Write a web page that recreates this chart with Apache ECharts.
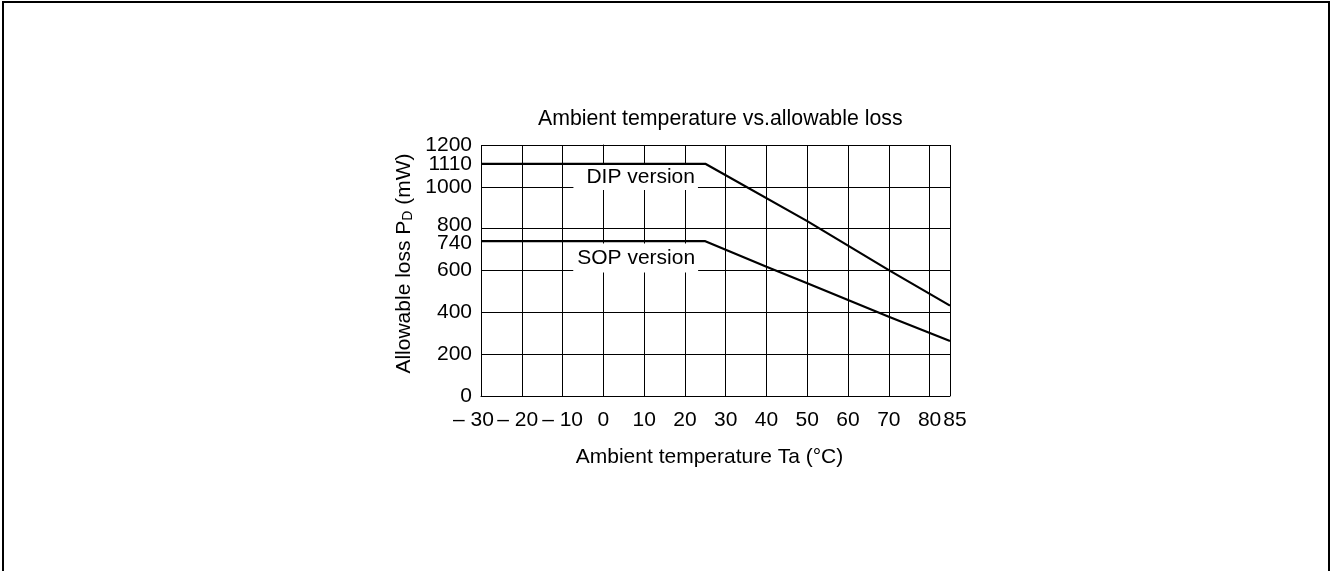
<!DOCTYPE html>
<html>
<head>
<meta charset="utf-8">
<title>Ambient temperature vs. allowable loss</title>
<script src="https://cdn.jsdelivr.net/npm/echarts@6/dist/echarts.min.js"></script>
<style>
  html, body { margin: 0; padding: 0; background: #fff; }
  #chart { width: 1330px; height: 571px; }
</style>
</head>
<body>
<div id="chart"></div>
<script>
// Ambient temperature (°C) and allowable power loss (mW) for each package
const dipTemp = [-30, 25, 50, 70, 85];
const dipLoss = [1110, 1110, 836, 602, 432];
const sopTemp = [-30, 25, 40, 50, 70, 85];
const sopLoss = [740, 740, 618, 539, 379, 263];

// Axis ranges and tick labels
const xMin = -30, xMax = 85, xStep = 10;
const yMin = 0, yMax = 1200, yStep = 200;
const yLabelValues = [0, 200, 400, 600, 740, 800, 1000, 1200];
// rated value of the DIP package, labelled on a companion axis so it sits tight under 1200
const yRatedValues = [1110];

// Text
const titleText = 'Ambient temperature vs.allowable loss';
const xName = 'Ambient temperature Ta (°C)';
const dipName = 'DIP version';
const sopName = 'SOP version';

const FONT = "'Liberation Sans', Arial, Helvetica, sans-serif";
const INK = '#000';

function pairs(xs, ys) { return xs.map((x, i) => [x, ys[i]]); }

function xLabel(v) {
  if (v === -30) return '{l30|– 30}';
  if (v === -20) return '{l20|– 20}';
  if (v < 0) return '– ' + Math.abs(v);
  if (v === 85) return '{r85|85}';
  return String(v);
}
function yLabel(v) {
  if (v === 800) return '{up|800}';
  if (v === 740) return '{dn|740}';
  return String(v);
}

function noteLabel(text, pad) {
  return {
    show: true,
    position: 'inside',
    formatter: text,
    color: INK,
    fontFamily: FONT,
    fontSize: 21,
    backgroundColor: '#fff',
    padding: pad
  };
}

const chart = echarts.init(document.getElementById('chart'), null, { renderer: 'canvas' });

chart.setOption({
  animation: false,
  backgroundColor: '#fff',
  title: {
    text: titleText,
    left: 538,
    top: 109,
    padding: 0,
    textStyle: { fontFamily: FONT, fontSize: 21.3, fontWeight: 'normal', color: INK }
  },
  graphic: [{
    type: 'rect',
    shape: { x: 3, y: 2, width: 1326, height: 700 },
    style: { fill: 'none', stroke: INK, lineWidth: 2 },
    silent: true
  }],
  grid: { left: 481, right: 380, top: 145, bottom: 175, containLabel: false },
  xAxis: {
    type: 'value',
    min: xMin,
    max: xMax,
    interval: xStep,
    name: xName,
    nameLocation: 'middle',
    nameGap: 51,
    nameTextStyle: {
      fontFamily: FONT, fontSize: 21, color: INK,
      padding: [0, 12, 0, 0]
    },
    axisLine: { show: true, lineStyle: { color: INK, width: 1 } },
    axisTick: { show: false },
    splitLine: { show: true, lineStyle: { color: INK, width: 1 } },
    axisLabel: {
      margin: 14,
      showMinLabel: true,
      showMaxLabel: true,
      hideOverlap: false,
      fontFamily: FONT, fontSize: 21, color: INK,
      formatter: xLabel,
      rich: {
        l30: { fontFamily: FONT, fontSize: 21, color: INK, padding: [0, 15, 0, 0] },
        l20: { fontFamily: FONT, fontSize: 21, color: INK, padding: [0, 8, 0, 0] },
        r85: { fontFamily: FONT, fontSize: 21, color: INK, padding: [0, 0, 0, 10] }
      }
    }
  },
  yAxis: [
    {
      type: 'value',
      position: 'left',
      min: yMin,
      max: yMax,
      interval: yStep,
      name: 'Allowable loss P{sub|D} (mW)',
      nameLocation: 'middle',
      nameGap: 66,
      nameTextStyle: {
        fontFamily: FONT, fontSize: 21, color: INK,
        padding: [0, 0, 0, 14],
        rich: {
          sub: { fontFamily: FONT, fontSize: 14, color: INK, verticalAlign: 'bottom' }
        }
      },
      axisLine: { show: true, lineStyle: { color: INK, width: 1 } },
      axisTick: { show: false },
      splitLine: { show: true, lineStyle: { color: INK, width: 1 } },
      axisLabel: {
        margin: 9,
        customValues: yLabelValues,
        showMinLabel: true,
        showMaxLabel: true,
        hideOverlap: false,
        fontFamily: FONT, fontSize: 21, color: INK,
        formatter: yLabel,
        rich: {
          up: { fontFamily: FONT, fontSize: 21, color: INK, padding: [0, 0, 6, 0] },
          dn: { fontFamily: FONT, fontSize: 21, color: INK, padding: [4, 0, 0, 0] }
        }
      }
    },
    {
      type: 'value',
      position: 'left',
      offset: 0,
      min: yMin,
      max: yMax,
      interval: yStep,
      axisLine: { show: false },
      axisTick: { show: false },
      splitLine: { show: false },
      axisLabel: {
        margin: 9,
        customValues: yRatedValues,
        showMinLabel: true,
        showMaxLabel: true,
        formatter: (v) => String(v),
        fontFamily: FONT, fontSize: 21, color: INK
      }
    }
  ],
  series: [
    {
      name: dipName,
      type: 'line',
      yAxisIndex: 0,
      data: pairs(dipTemp, dipLoss),
      showSymbol: false,
      symbol: 'none',
      lineStyle: { color: INK, width: 2.2 },
      z: 3,
      markPoint: {
        symbol: 'rect',
        symbolSize: 0,
        itemStyle: { color: 'transparent' },
        label: noteLabel(dipName, [2, 3, 2, 13]),
        data: [{ coord: [7.93, 1045] }]
      }
    },
    {
      name: sopName,
      type: 'line',
      yAxisIndex: 0,
      data: pairs(sopTemp, sopLoss),
      showSymbol: false,
      symbol: 'none',
      lineStyle: { color: INK, width: 2.2 },
      z: 3,
      markPoint: {
        symbol: 'rect',
        symbolSize: 0,
        itemStyle: { color: 'transparent' },
        label: noteLabel(sopName, [4, 3, 4, 4]),
        data: [{ coord: [7.93, 660] }]
      }
    }
  ]
});
</script>
</body>
</html>
